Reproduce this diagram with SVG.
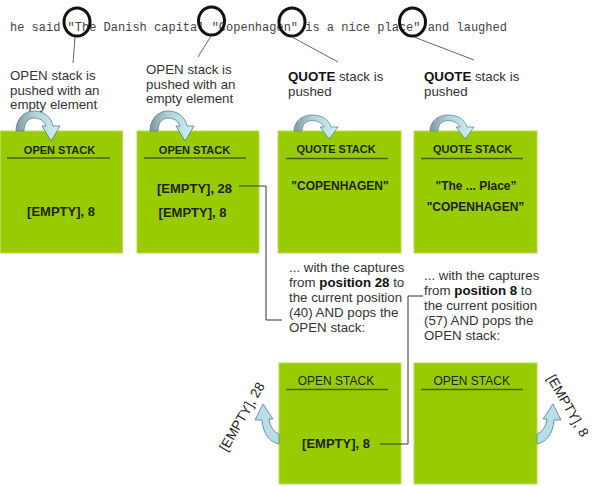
<svg xmlns="http://www.w3.org/2000/svg" width="600" height="486" viewBox="0 0 600 486">
<defs>
<linearGradient id="ag" x1="0" y1="0" x2="1" y2="0">
<stop offset="0" stop-color="#7f9aa0"/>
<stop offset="0.45" stop-color="#b3d6de"/>
<stop offset="1" stop-color="#cdeef5"/>
</linearGradient>
<path id="carrow" d="M0,0 C0,-12 8,-20 18,-20 C28,-20 35,-14 37,-5 L44,-5 L35,10 L26,-5 L30,-5 C28,-10 24,-13 18,-13 C12,-13 8,-8 8,0 Z"/>
</defs>
<style>
.box{fill:#99cc00;stroke:#b8dc50;stroke-width:1}
.hd{font-family:"Liberation Sans",Arial,sans-serif;font-size:11px;font-weight:bold;fill:#1e2600;text-anchor:middle}
.hdn{font-family:"Liberation Sans",Arial,sans-serif;font-size:12px;fill:#1e2600;text-anchor:middle}
.ul{stroke:#4b5d1a;stroke-width:1.5}
.ct{font-family:"Liberation Sans",Arial,sans-serif;font-size:13px;font-weight:bold;fill:#1e2200;text-anchor:middle}
.cq{font-family:"Liberation Sans",Arial,sans-serif;font-size:12px;font-weight:bold;fill:#1e2200;text-anchor:middle}
.nt{font-family:"Liberation Sans",Arial,sans-serif;font-size:13.3px;fill:#333}
.b{font-weight:bold;fill:#111}
.code{font-family:"Liberation Mono","Courier New",monospace;font-size:12px;fill:#444}
.ring{fill:none;stroke:#111;stroke-width:3}
.pt{stroke:#666;stroke-width:1;fill:none}
.con{stroke:#333;stroke-width:1;fill:none}
.arr{fill:url(#ag);stroke:#5a7a82;stroke-width:0.8}
.sarr{fill:#b7dde6;stroke:#5a7a82;stroke-width:0.8}
.rt{font-family:"Liberation Sans",Arial,sans-serif;font-size:13.5px;fill:#222;text-anchor:middle}
</style>

<g id="sentence">
<text class="code" x="10" y="31">he said "The Danish capital "Copenhagen" is a nice place" and laughed</text>
<ellipse class="ring" cx="77" cy="22" rx="13" ry="14"/>
<ellipse class="ring" cx="211.5" cy="21" rx="13" ry="14"/>
<ellipse class="ring" cx="292" cy="22" rx="13" ry="14"/>
<ellipse class="ring" cx="412.5" cy="22" rx="13" ry="14"/>
<line class="pt" x1="75" y1="37" x2="73" y2="63"/>
<line class="pt" x1="211" y1="36" x2="198" y2="57"/>
<line class="pt" x1="292" y1="37" x2="338" y2="62"/>
<line class="pt" x1="414" y1="37" x2="474" y2="60"/>
</g>

<g id="note1">
<text class="nt" x="10" y="80">OPEN stack is</text>
<text class="nt" x="10" y="94.5">pushed with an</text>
<text class="nt" x="10" y="109">empty element</text>
</g>
<g id="note2">
<text class="nt" x="146" y="74">OPEN stack is</text>
<text class="nt" x="146" y="88.5">pushed with an</text>
<text class="nt" x="146" y="103">empty element</text>
</g>
<g id="note3">
<text class="nt" x="288" y="80.5"><tspan class="b">QUOTE</tspan> stack is</text>
<text class="nt" x="288" y="95.5">pushed</text>
</g>
<g id="note4">
<text class="nt" x="424" y="80.5"><tspan class="b">QUOTE</tspan> stack is</text>
<text class="nt" x="424" y="95.5">pushed</text>
</g>
<g id="note5">
<text class="nt" x="289" y="272">... with the captures</text>
<text class="nt" x="289" y="287">from <tspan class="b">position 28</tspan> to</text>
<text class="nt" x="289" y="302">the current position</text>
<text class="nt" x="289" y="317">(40) AND pops the</text>
<text class="nt" x="289" y="332">OPEN stack:</text>
</g>
<g id="note6">
<text class="nt" x="424" y="280">... with the captures</text>
<text class="nt" x="424" y="295">from <tspan class="b">position 8</tspan> to</text>
<text class="nt" x="424" y="310">the current position</text>
<text class="nt" x="424" y="325">(57) AND pops the</text>
<text class="nt" x="424" y="340">OPEN stack:</text>
</g>

<g id="stack1">
<rect class="box" x="0.5" y="131" width="122" height="122"/>
<text class="hd" x="59.5" y="153.5">OPEN STACK</text>
<line class="ul" x1="7" y1="158" x2="110" y2="158"/>
<text class="ct" x="61" y="216">[EMPTY], 8</text>
<use href="#carrow" class="arr" transform="translate(16,131)"/>
</g>
<g id="stack2">
<rect class="box" x="137" y="131" width="122" height="122"/>
<text class="hd" x="194.5" y="153.5">OPEN STACK</text>
<line class="ul" x1="144" y1="158" x2="246" y2="158"/>
<text class="ct" x="194.5" y="193">[EMPTY], 28</text>
<text class="ct" x="192.5" y="216.5">[EMPTY], 8</text>
<use href="#carrow" class="arr" transform="translate(150,131)"/>
</g>
<g id="stack3">
<rect class="box" x="278" y="131" width="123" height="122"/>
<text class="hd" x="336" y="152.5">QUOTE STACK</text>
<line class="ul" x1="286" y1="158.5" x2="388" y2="158.5"/>
<text class="cq" x="340" y="190">"COPENHAGEN"</text>
<use href="#carrow" class="arr" transform="translate(294,131) scale(1,0.8)"/>
</g>
<g id="stack4">
<rect class="box" x="414" y="131" width="123" height="122"/>
<text class="hd" x="472.5" y="152.5">QUOTE STACK</text>
<line class="ul" x1="421" y1="158.5" x2="523" y2="158.5"/>
<text class="cq" x="476" y="190">"The ... Place”</text>
<text class="cq" x="475.5" y="211">"COPENHAGEN”</text>
<use href="#carrow" class="arr" transform="translate(430,131) scale(1,0.8)"/>
</g>
<g id="stack5">
<rect class="box" x="279" y="363" width="122" height="121"/>
<text class="hdn" x="336" y="385">OPEN STACK</text>
<line class="ul" x1="286" y1="389.5" x2="388" y2="389.5"/>
<text class="ct" x="336" y="448">[EMPTY], 8</text>
<path class="sarr" d="M279,444 C269,442 263,433 262,420 L255,420 L263,404 L273,419 L269,419 C270,427 274,432 279,434 Z"/>
<text class="rt" transform="translate(246,419) rotate(-60)">[EMPTY], 28</text>
</g>
<g id="stack6">
<rect class="box" x="414" y="363" width="123" height="121"/>
<text class="hdn" x="471.7" y="385">OPEN STACK</text>
<line class="ul" x1="421" y1="389.5" x2="523" y2="389.5"/>
<path class="sarr" d="M537,444 C547,442 553,433 554,420 L561,420 L553,404 L543,419 L547,419 C546,427 542,432 537,434 Z"/>
<text class="rt" transform="translate(564,408) rotate(60)">[EMPTY], 8</text>
</g>

<g id="connectors">
<path class="con" d="M239,186 H266 V320 H282"/>
<path class="con" d="M380,444 H408 V296 H423"/>
</g>
</svg>
